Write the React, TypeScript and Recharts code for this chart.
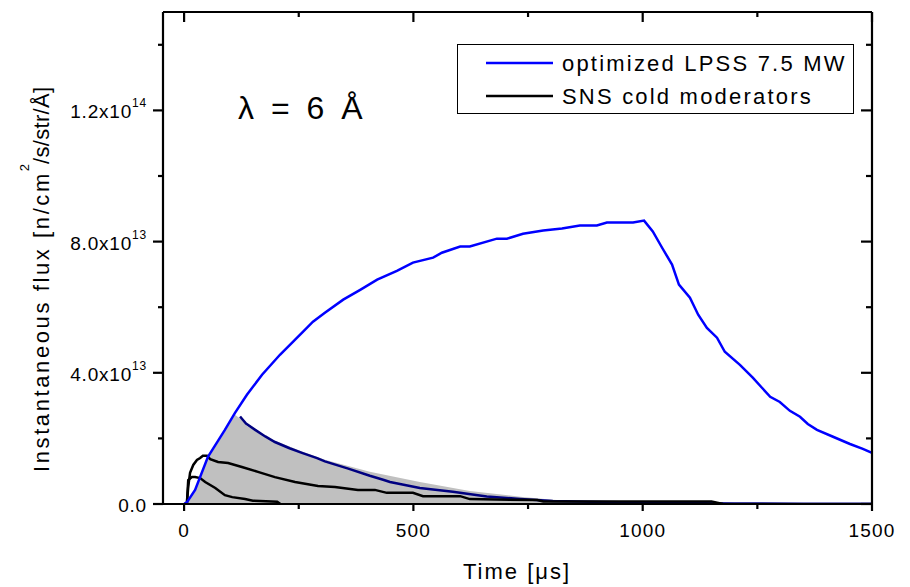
import React from 'react';
import { ComposedChart, Line, Area, XAxis, YAxis } from 'recharts';

const FONT = '"Liberation Sans", Arial, Helvetica, sans-serif';

// axis ticks
const timeTicks = [0, 250, 500, 750, 1000, 1250, 1500];
const fluxTicks = [0, 2e13, 4e13, 6e13, 8e13, 1e14, 1.2e14, 1.4e14];

// optimized LPSS 7.5 MW (blue)
const lpssTime = [0, 6, 24, 52, 89, 111, 137, 170, 209, 259, 281, 307, 347, 384, 421, 464, 499, 543, 562, 602, 623, 682, 704, 739, 783, 824, 863, 900, 922, 979, 1003, 1022, 1042, 1064, 1079, 1103, 1121, 1140, 1162, 1179, 1212, 1240, 1278, 1299, 1321, 1343, 1360, 1380, 1415, 1452, 1480, 1500];
const lpssFlux = [0, 0.05e13, 0.43e13, 1.44e13, 2.26e13, 2.78e13, 3.33e13, 3.94e13, 4.55e13, 5.25e13, 5.56e13, 5.83e13, 6.23e13, 6.53e13, 6.84e13, 7.11e13, 7.36e13, 7.51e13, 7.66e13, 7.85e13, 7.85e13, 8.09e13, 8.09e13, 8.24e13, 8.34e13, 8.40e13, 8.49e13, 8.49e13, 8.58e13, 8.58e13, 8.64e13, 8.31e13, 7.82e13, 7.30e13, 6.69e13, 6.29e13, 5.77e13, 5.37e13, 5.07e13, 4.64e13, 4.24e13, 3.85e13, 3.27e13, 3.11e13, 2.84e13, 2.66e13, 2.44e13, 2.26e13, 2.05e13, 1.83e13, 1.68e13, 1.56e13];

// gray filled pulse
const grayTime = [0, 24, 52, 89, 111, 126, 137, 161, 177, 200, 257, 307, 405, 514, 623, 733, 804, 900, 990, 1000];
const grayFlux = [0, 0.38e13, 1.38e13, 2.2e13, 2.72e13, 2.56e13, 2.38e13, 2.17e13, 2.05e13, 1.92e13, 1.60e13, 1.35e13, 0.98e13, 0.67e13, 0.40e13, 0.22e13, 0.13e13, 0.05e13, 0.02e13, 0];

// navy decay curve
const navyTime = [122, 135, 155, 177, 198, 230, 257, 290, 307, 358, 405, 434, 449, 514, 586, 660, 733, 804, 913, 1059, 1200, 1350, 1500];
const navyFlux = [2.67e13, 2.45e13, 2.26e13, 2.06e13, 1.89e13, 1.70e13, 1.56e13, 1.40e13, 1.30e13, 1.08e13, 0.86e13, 0.74e13, 0.67e13, 0.49e13, 0.37e13, 0.23e13, 0.15e13, 0.09e13, 0.06e13, 0.03e13, 0.015e13, 0.01e13, 0.005e13];

// SNS cold moderators (black)
const snsATime = [0, 6, 9, 13, 20, 28, 35, 41, 50, 57, 74, 96, 126, 161, 198, 242, 292, 329, 379, 416, 442, 499, 521, 602, 623, 770, 783, 1150, 1175];
const snsAFlux = [0, 0, 0.52e13, 0.95e13, 1.19e13, 1.34e13, 1.40e13, 1.47e13, 1.47e13, 1.37e13, 1.28e13, 1.25e13, 1.13e13, 0.98e13, 0.82e13, 0.67e13, 0.55e13, 0.52e13, 0.43e13, 0.43e13, 0.34e13, 0.34e13, 0.24e13, 0.24e13, 0.15e13, 0.12e13, 0.08e13, 0.08e13, 0];
const snsBTime = [0, 6, 9, 17, 24, 35, 46, 68, 89, 105, 133, 150, 203, 210];
const snsBFlux = [0, 0, 0.73e13, 0.82e13, 0.82e13, 0.79e13, 0.67e13, 0.49e13, 0.27e13, 0.21e13, 0.15e13, 0.10e13, 0.07e13, 0];

const legendItems = [
  { name: 'optimized LPSS 7.5 MW', color: '#0000FF' },
  { name: 'SNS cold moderators', color: '#000000' },
];

const rows = (t: number[], v: number[]) => t.map((x, i) => ({ t: x, v: v[i] }));

const fluxLabel = (v: number) => {
  if (v === 0) return { m: '0.0', e: '' };
  const e = Math.floor(Math.log10(v) + 1e-9);
  return { m: (v / Math.pow(10, e)).toFixed(1) + 'x10', e: String(e) };
};

const TW = 2.2;

const BottomTick = (p: any) => {
  const { x, y, payload } = p;
  const v = payload.value;
  const major = v % 500 === 0;
  return (
    <g>
      <line x1={x} x2={x} y1={y} y2={y + (major ? 7 : 5)} stroke="#000" strokeWidth={TW} />
      {major && (
        <text x={x} y={y + 33} textAnchor="middle" fontSize={19} fontFamily={FONT} letterSpacing={1.2} fill="#000">
          {v}
        </text>
      )}
    </g>
  );
};

const TopTick = (p: any) => {
  const { x, y, payload } = p;
  const major = payload.value % 500 === 0;
  return <line x1={x} x2={x} y1={y} y2={y + (major ? 10 : 5)} stroke="#000" strokeWidth={TW} />;
};

const LeftTick = (p: any) => {
  const { x, y, payload } = p;
  const v = payload.value;
  const k = Math.round(v / 1e13);
  const major = k % 4 === 0;
  const lab = fluxLabel(v);
  return (
    <g>
      <line x1={x} x2={x - (major ? 10 : 5)} y1={y} y2={y} stroke="#000" strokeWidth={TW} />
      {major && (
        <text x={x - 16} y={y + 8} textAnchor="end" fontSize={19} fontFamily={FONT} letterSpacing={0.8} fill="#000">
          {lab.m}
          {lab.e && (
            <tspan dy={-11} fontSize={12}>
              {lab.e}
            </tspan>
          )}
        </text>
      )}
    </g>
  );
};

const RightTick = (p: any) => {
  const { x, y, payload } = p;
  const k = Math.round(payload.value / 1e13);
  const major = k % 4 === 0;
  return <line x1={x} x2={x - (major ? 11 : 6)} y1={y} y2={y} stroke="#000" strokeWidth={TW} />;
};

const axisLine = { stroke: '#000', strokeWidth: TW };
const LW = 2.5;

export default function App() {
  return (
    <div style={{ position: 'absolute', left: 0, top: 0, width: 910, height: 587, background: '#fff', overflow: 'hidden' }}>
      <ComposedChart width={910} height={587} margin={{ top: 0, right: 0, bottom: 0, left: 0 }}>
        <XAxis xAxisId="b" type="number" dataKey="t" domain={[-46, 1500]} ticks={timeTicks} orientation="bottom" height={83}
          tickSize={0} tickMargin={0} tickLine={false} axisLine={axisLine} tick={(p: any) => <BottomTick {...p} />} interval={0} allowDataOverflow />
        <XAxis xAxisId="t" type="number" dataKey="t" domain={[-46, 1500]} ticks={timeTicks} orientation="top" height={12}
          tickSize={0} tickMargin={0} tickLine={false} axisLine={axisLine} tick={(p: any) => <TopTick {...p} />} interval={0} allowDataOverflow />
        <YAxis yAxisId="l" type="number" domain={[0, 1.5e14]} ticks={fluxTicks} orientation="left" width={163}
          tickSize={0} tickMargin={0} tickLine={false} axisLine={axisLine} tick={(p: any) => <LeftTick {...p} />} interval={0} allowDataOverflow />
        <YAxis yAxisId="r" type="number" domain={[0, 1.5e14]} ticks={fluxTicks} orientation="right" width={38}
          tickSize={0} tickMargin={0} tickLine={false} axisLine={axisLine} tick={(p: any) => <RightTick {...p} />} interval={0} allowDataOverflow />
        <Area xAxisId="b" yAxisId="l" data={rows(grayTime, grayFlux)} dataKey="v" type="linear" fill="#C0C0C0" fillOpacity={1} stroke="none" isAnimationActive={false} legendType="none" />
        <Line xAxisId="b" yAxisId="l" data={rows(navyTime, navyFlux)} dataKey="v" type="linear" stroke="#000080" strokeWidth={LW} dot={false} isAnimationActive={false} legendType="none" />
        <Line xAxisId="b" yAxisId="l" data={rows(snsATime, snsAFlux)} dataKey="v" name={legendItems[1].name} type="linear" stroke={legendItems[1].color} strokeWidth={LW} dot={false} isAnimationActive={false} />
        <Line xAxisId="b" yAxisId="l" data={rows(snsBTime, snsBFlux)} dataKey="v" type="linear" stroke={legendItems[1].color} strokeWidth={LW} dot={false} isAnimationActive={false} legendType="none" />
        <Line xAxisId="b" yAxisId="l" data={rows(lpssTime, lpssFlux)} dataKey="v" name={legendItems[0].name} type="linear" stroke={legendItems[0].color} strokeWidth={LW} dot={false} isAnimationActive={false} />
      </ComposedChart>
      <svg width={910} height={587} style={{ position: 'absolute', left: 0, top: 0, pointerEvents: 'none' }}>
        <text x={238} y={119} fontSize={32} fontFamily={FONT} letterSpacing={4} fill="#000">λ = 6 Å</text>
        <rect x={457.5} y={44.5} width={396} height={69} fill="#fff" stroke="#000" strokeWidth={1} />
        {legendItems.map((it, i) => (
          <g key={it.name}>
            <line x1={486} x2={553} y1={63 + 33 * i} y2={63 + 33 * i} stroke={it.color} strokeWidth={LW} />
            <text x={562} y={70.7 + 33 * i} fontSize={22} fontFamily={FONT} letterSpacing={2.2} fill="#000">{it.name}</text>
          </g>
        ))}
        <text x={517} y={579} textAnchor="middle" fontSize={22} fontFamily={FONT} letterSpacing={2} fill="#000">Time [μs]</text>
        <text transform="translate(49,472) rotate(-90)" textAnchor="start" fontSize={22} fontFamily={FONT} letterSpacing={2.6} fill="#000">
          Instantaneous flux [n/cm<tspan dy={-20} fontSize={13} letterSpacing={0}>2</tspan><tspan dy={20} letterSpacing={0.3}>/s/str/Å]</tspan>
        </text>
      </svg>
    </div>
  );
}
